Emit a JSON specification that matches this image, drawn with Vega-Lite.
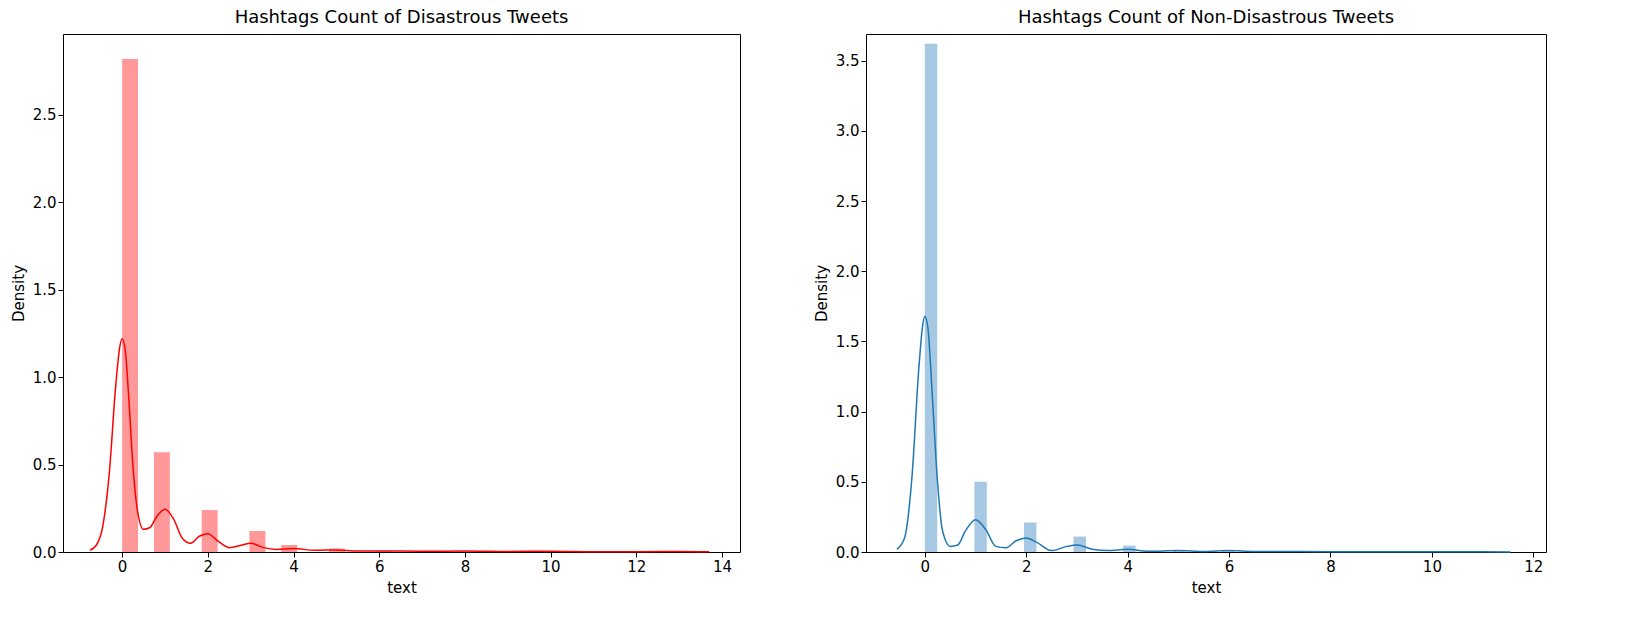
{
"$schema":"https://vega.github.io/schema/vega-lite/v6.json",
"padding":{"left":10,"top":8,"right":5,"bottom":5},
"config":{"font":"DejaVu Sans","view":{"stroke":"black","strokeWidth":1},
"axis":{"grid":false,"domain":false,"tickColor":"black","labelColor":"black","titleColor":"black","labelFontSize":15,"titleFontSize":15,"titleFontWeight":"normal","tickSize":5,"labelFont":"DejaVu Sans","titleFont":"DejaVu Sans","titlePadding":6},
"title":{"fontSize":18,"fontWeight":"normal","font":"DejaVu Sans","color":"black","offset":7}},
"spacing":72,
"datasets":{
"lb":[{"a":0,"b":0.371,"d":2.82},{"a":0.743,"b":1.114,"d":0.57},{"a":1.857,"b":2.229,"d":0.24},{"a":2.971,"b":3.343,"d":0.12},{"a":3.714,"b":4.086,"d":0.04},{"a":4.829,"b":5.2,"d":0.02},{"a":5.943,"b":6.314,"d":0.005},{"a":7.057,"b":7.429,"d":0.003},{"a":7.8,"b":8.171,"d":0.004},{"a":9.657,"b":10.029,"d":0.003},{"a":12.629,"b":13,"d":0.002}],
"lk":[{"x":-0.75,"y":0.01},{"x":-0.6,"y":0.04},{"x":-0.45,"y":0.15},{"x":-0.3,"y":0.45},{"x":-0.15,"y":0.95},{"x":-0.05,"y":1.18},{"x":0,"y":1.22},{"x":0.07,"y":1.16},{"x":0.15,"y":0.9},{"x":0.25,"y":0.5},{"x":0.35,"y":0.25},{"x":0.5,"y":0.13},{"x":0.65,"y":0.14},{"x":0.8,"y":0.2},{"x":1.0,"y":0.245},{"x":1.2,"y":0.19},{"x":1.4,"y":0.08},{"x":1.6,"y":0.05},{"x":1.8,"y":0.09},{"x":2.0,"y":0.105},{"x":2.2,"y":0.07},{"x":2.5,"y":0.025},{"x":2.8,"y":0.04},{"x":3.0,"y":0.05},{"x":3.3,"y":0.025},{"x":3.6,"y":0.015},{"x":4.0,"y":0.02},{"x":4.5,"y":0.01},{"x":5.0,"y":0.012},{"x":5.5,"y":0.006},{"x":6,"y":0.006},{"x":7,"y":0.004},{"x":8,"y":0.006},{"x":9,"y":0.003},{"x":10,"y":0.005},{"x":11,"y":0.002},{"x":12,"y":0.002},{"x":13,"y":0.003},{"x":13.7,"y":0.001}],
"rb":[{"a":0,"b":0.244,"d":3.62},{"a":0.978,"b":1.222,"d":0.5},{"a":1.956,"b":2.2,"d":0.21},{"a":2.933,"b":3.178,"d":0.11},{"a":3.911,"b":4.156,"d":0.045},{"a":4.889,"b":5.133,"d":0.01},{"a":5.867,"b":6.111,"d":0.01},{"a":6.844,"b":7.089,"d":0.003},{"a":7.822,"b":8.067,"d":0.002},{"a":10.756,"b":11,"d":0.002}],
"rk":[{"x":-0.55,"y":0.02},{"x":-0.4,"y":0.1},{"x":-0.25,"y":0.55},{"x":-0.12,"y":1.3},{"x":-0.04,"y":1.62},{"x":0,"y":1.68},{"x":0.06,"y":1.6},{"x":0.15,"y":1.1},{"x":0.25,"y":0.5},{"x":0.35,"y":0.15},{"x":0.5,"y":0.04},{"x":0.65,"y":0.05},{"x":0.8,"y":0.15},{"x":1.0,"y":0.23},{"x":1.2,"y":0.16},{"x":1.4,"y":0.04},{"x":1.6,"y":0.03},{"x":1.8,"y":0.08},{"x":2.0,"y":0.1},{"x":2.2,"y":0.07},{"x":2.5,"y":0.01},{"x":2.8,"y":0.04},{"x":3.0,"y":0.05},{"x":3.3,"y":0.02},{"x":3.6,"y":0.01},{"x":4.0,"y":0.02},{"x":4.4,"y":0.005},{"x":5.0,"y":0.01},{"x":5.5,"y":0.004},{"x":6,"y":0.01},{"x":6.5,"y":0.003},{"x":7,"y":0.003},{"x":8,"y":0.002},{"x":9,"y":0.001},{"x":10,"y":0.001},{"x":11,"y":0.001},{"x":11.55,"y":0.0}]
},
"hconcat":[
{"width":677,"height":518,"title":"Hashtags Count of Disastrous Tweets",
"layer":[
{"data":{"name":"lb"},"mark":{"type":"rect","color":"#ff9999"},
"encoding":{"x":{"field":"a","type":"quantitative","scale":{"domain":[-1.38,14.42],"nice":false,"zero":false},"axis":{"values":[0,2,4,6,8,10,12,14]},"title":"text"},"x2":{"field":"b"},
"y":{"field":"d","type":"quantitative","scale":{"domain":[0,2.963],"nice":false},"axis":{"values":[0,0.5,1,1.5,2,2.5],"format":".1f"},"title":"Density"},"y2":{"datum":0}}},
{"data":{"name":"lk"},"mark":{"type":"line","color":"red","strokeWidth":1.5,"interpolate":"monotone"},
"encoding":{"x":{"field":"x","type":"quantitative"},"y":{"field":"y","type":"quantitative"}}}
]},
{"width":680,"height":518,"title":"Hashtags Count of Non-Disastrous Tweets",
"layer":[
{"data":{"name":"rb"},"mark":{"type":"rect","color":"#a6c8e2"},
"encoding":{"x":{"field":"a","type":"quantitative","scale":{"domain":[-1.16,12.25],"nice":false,"zero":false},"axis":{"values":[0,2,4,6,8,10,12]},"title":"text"},"x2":{"field":"b"},
"y":{"field":"d","type":"quantitative","scale":{"domain":[0,3.69],"nice":false},"axis":{"values":[0,0.5,1,1.5,2,2.5,3,3.5],"format":".1f"},"title":"Density"},"y2":{"datum":0}}},
{"data":{"name":"rk"},"mark":{"type":"line","color":"#1f77b4","strokeWidth":1.5,"interpolate":"monotone"},
"encoding":{"x":{"field":"x","type":"quantitative"},"y":{"field":"y","type":"quantitative"}}}
]}
]}
